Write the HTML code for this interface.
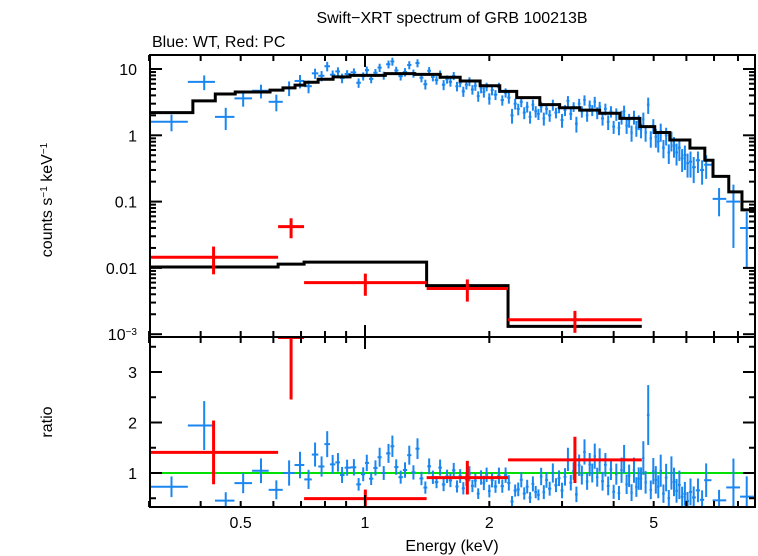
<!DOCTYPE html>
<html><head><meta charset="utf-8"><style>
body{margin:0;background:#fff;}
svg{display:block;font-family:"Liberation Sans",sans-serif;}
</style></head><body>
<svg id="c" width="758" height="556" viewBox="0 0 758 556">
<text x="452" y="23" text-anchor="middle" font-size="16">Swift−XRT spectrum of GRB 100213B</text>
<text x="152" y="47" font-size="16">Blue: WT, Red: PC</text>
<text transform="translate(52,200) rotate(-90)" text-anchor="middle" font-size="16">counts s<tspan baseline-shift="super" font-size="10">−1</tspan> keV<tspan baseline-shift="super" font-size="10">−1</tspan></text>
<text transform="translate(52,422) rotate(-90)" text-anchor="middle" font-size="16">ratio</text>
<text x="452" y="551" text-anchor="middle" font-size="16">Energy (keV)</text>
<g id="g"></g>
</svg>
<script>
// ---- data ----
const blueE=[0.34,0.408,0.46,0.507,0.56,0.61,0.655,0.696,0.73,0.757,0.785,0.81,0.835,0.86,0.88,0.905,0.94,0.965,0.99,1.01,1.035,1.06,1.085,1.11,1.14,1.165,1.19,1.22,1.25,1.28,1.31,1.34,1.37,1.40,1.43,1.46,1.49,1.52,1.55,1.58,1.61,1.64,1.67,1.70,1.73,1.76,1.79,1.82,1.85,1.88,1.91,1.94,1.97,2.00,2.03,2.07,2.11,2.15,2.19,2.23,2.27,2.31,2.35,2.39,2.43,2.47,2.51,2.55,2.59,2.63,2.67,2.71,2.75,2.80,2.85,2.90,2.95,3.00,3.05,3.10,3.15,3.20,3.25,3.30,3.35,3.40,3.45,3.50,3.55,3.60,3.65,3.70,3.76,3.82,3.88,3.94,4.00,4.06,4.12,4.18,4.24,4.30,4.36,4.42,4.48,4.54,4.60,4.66,4.72,4.78,4.85,4.92,4.99,5.06,5.13,5.20,5.28,5.36,5.44,5.52,5.60,5.68,5.77,5.86,5.95,6.04,6.14,6.25,6.4,6.55,6.7,7.2,7.8,8.4];
const blueV=[1.6,6.4,1.9,3.6,4.7,3.2,5.2,6.6,5.5,8.6,7.9,11.0,8.2,9.2,7.3,8.4,8.9,6.2,7.8,9.6,7.1,8.8,10.5,8.0,11.8,13.0,9.5,7.8,9.0,11.5,8.6,12.3,7.4,5.9,9.4,7.6,6.8,8.3,5.8,7.0,6.4,7.9,5.5,6.2,4.6,5.8,6.5,4.9,5.6,3.9,5.1,4.5,5.4,3.6,4.8,4.1,5.3,3.4,4.4,3.7,2.0,3.0,2.5,3.2,2.2,2.7,1.9,2.9,2.3,2.1,2.7,1.8,2.5,2.0,2.9,2.2,2.6,1.7,2.4,3.3,2.1,2.7,1.5,3.0,2.3,3.4,2.0,2.8,2.4,3.2,2.2,2.7,1.8,2.5,1.6,2.3,1.35,2.1,1.3,1.9,2.3,1.4,1.7,1.1,1.9,1.3,1.6,1.2,1.75,1.1,2.9,0.9,1.4,0.95,0.8,1.15,0.65,1.0,0.55,0.85,0.7,0.55,0.65,0.45,0.5,0.38,0.4,0.33,0.42,0.3,0.36,0.11,0.10,0.04];
const blueErr=[0.45,1.6,0.7,0.9,1.1,0.9,1.3,1.5,1.2,1.5,1.4,1.8,1.3,1.4,1.2,1.2,1.3,1.0,1.1,1.3,1.0,1.2,1.5,1.1,1.6,1.8,1.3,1.1,1.3,1.6,1.2,1.7,1.1,1.0,1.3,1.1,1.0,1.2,1.0,1.0,1.0,1.1,0.9,0.9,0.8,0.9,1.0,0.8,0.9,0.7,0.8,0.8,0.8,0.7,0.8,0.7,0.9,0.6,0.7,0.7,0.5,0.55,0.5,0.55,0.45,0.5,0.4,0.55,0.45,0.4,0.5,0.4,0.45,0.4,0.55,0.4,0.45,0.4,0.45,0.6,0.4,0.45,0.4,0.55,0.45,0.6,0.4,0.55,0.45,0.6,0.45,0.5,0.4,0.5,0.4,0.45,0.3,0.45,0.3,0.45,0.5,0.35,0.4,0.3,0.45,0.35,0.4,0.3,0.45,0.3,0.8,0.25,0.35,0.3,0.25,0.35,0.2,0.3,0.18,0.28,0.24,0.2,0.24,0.17,0.2,0.15,0.17,0.14,0.15,0.12,0.14,0.05,0.08,0.03];
const modelEdges=[0.30,0.383,0.434,0.485,0.589,0.633,0.677,0.715,0.77,0.837,0.92,1.12,1.32,1.52,1.70,1.90,2.12,2.33,2.65,2.96,3.31,3.70,4.14,4.63,5.03,5.47,6.12,6.65,6.96,7.6,8.18,8.9];
const modelV=[2.2,3.3,4.2,4.5,4.8,5.2,5.7,6.3,7.0,7.6,8.0,8.5,8.3,7.5,6.6,5.6,4.6,3.7,2.9,2.6,2.4,2.15,1.8,1.35,1.1,0.85,0.64,0.42,0.24,0.14,0.075];
const redLo=[0.30,0.616,0.712,1.41,2.22];
const redHi=[0.616,0.712,1.41,2.22,4.68];
const redV=[0.0145,0.042,0.006,0.0049,0.00165];
const redErr=[0.0065,0.014,0.0022,0.0018,0.0006];
const redModelEdges=[0.30,0.616,0.712,1.41,2.22,4.68];
const redModelV=[0.0103,0.0114,0.0122,0.0054,0.00131];
const xTicks=[0.5,1,2,5];
const xTickLabels=["0.5","1","2","5"];
const yTicks=[10,1,0.1,0.01];
const yTickLabels=["10","1","0.1","0.01"];
const rTicks=[1,2,3];
// ---- axes ----
const X0=150,X1=755,T0=55,T1=337,B1=507;
const xs=e=>365+413*Math.log10(e);
const ys=v=>69-66.3*Math.log10(v/10);
const yr=r=>473-50.5*(r-1);
const NS="http://www.w3.org/2000/svg",G=document.getElementById('g');
function el(t,a,p){const e=document.createElementNS(NS,t);for(const k in a)e.setAttribute(k,a[k]);(p||G).appendChild(e);return e;}
function ln(p,x1,y1,x2,y2,c,w){return el('line',{x1:x1,y1:y1,x2:x2,y2:y2,stroke:c,'stroke-width':w},p);}
function modelAt(edges,vals,e){for(let i=0;i<vals.length;i++)if(e>=edges[i]&&e<edges[i+1])return vals[i];return vals[vals.length-1];}
const bLo=[],bHi=[];
for(let i=0;i<blueE.length;i++){
 let p=i>0?Math.sqrt(blueE[i-1]*blueE[i]):0.30;
 let n=i<blueE.length-1?Math.sqrt(blueE[i]*blueE[i+1]):8.9;
 if(blueE[i]>7){p=Math.max(p,blueE[i]/1.08);}
 if(i<blueE.length-1&&blueE[i+1]>7&&blueE[i]<7){n=Math.min(n,blueE[i]*1.03);}
 bLo.push(p);bHi.push(n);}
const defs=el('defs',{});
const cp1=el('clipPath',{id:'ct'},defs);el('rect',{x:X0,y:T0,width:X1-X0,height:T1-T0},cp1);
const cp2=el('clipPath',{id:'cb'},defs);el('rect',{x:X0,y:T1,width:X1-X0,height:B1-T1},cp2);
const topG=el('g',{'clip-path':'url(#ct)'});


const botG=el('g',{'clip-path':'url(#cb)'});


const gl=ln(botG,X0,yr(1),X1,yr(1),'#00e000',2);


const B='#1a86f0';
for(let i=0;i<blueE.length;i++){
 const v=blueV[i],er=blueErr[i];
 const a=ln(topG,xs(bLo[i]),ys(v),xs(bHi[i]),ys(v),B,2);
 
 
 ln(topG,xs(blueE[i]),ys(v+er),xs(blueE[i]),ys(Math.max(v-er,1e-4)),B,2);
 const m=modelAt(modelEdges,modelV,blueE[i]);
 const rr=v/m,re=er/m;
 const b=ln(botG,xs(bLo[i]),yr(rr),xs(bHi[i]),yr(rr),B,2);
 
 
 ln(botG,xs(blueE[i]),yr(rr+re),xs(blueE[i]),yr(rr-re),B,2);
}
function stepPath(edges,vals){let d='';for(let i=0;i<vals.length;i++){d+=(i?'L':'M')+xs(edges[i])+' '+ys(vals[i])+'L'+xs(edges[i+1])+' '+ys(vals[i]);}return d;}
const mp=el('path',{d:stepPath(modelEdges,modelV),fill:'none',stroke:'#000','stroke-width':3},topG);


const rp=el('path',{d:stepPath(redModelEdges,redModelV),fill:'none',stroke:'#000','stroke-width':3},topG);


for(let i=0;i<redV.length;i++){
 const c=Math.sqrt(redLo[i]*redHi[i]),v=redV[i],er=redErr[i];
 const a=ln(topG,xs(redLo[i]),ys(v),xs(redHi[i]),ys(v),'#f00',3);
 
 
 ln(topG,xs(c),ys(v+er),xs(c),ys(v-er),'#f00',3);
 const m=modelAt(redModelEdges,redModelV,c),rr=v/m,re=er/m;
 const b=ln(botG,xs(redLo[i]),yr(rr),xs(redHi[i]),yr(rr),'#f00',3);
 
 
 ln(botG,xs(c),yr(rr+re),xs(c),yr(rr-re),'#f00',3);
}
const f1=el('rect',{x:X0,y:T0,width:X1-X0,height:T1-T0,fill:'none',stroke:'#000','stroke-width':2});


const f2=el('rect',{x:X0,y:T1,width:X1-X0,height:B1-T1,fill:'none',stroke:'#000','stroke-width':2});


const minorX=[0.3,0.4,0.5,0.6,0.7,0.8,0.9,1,2,3,4,5,6,7,8];
minorX.forEach(e=>{
 const xx=xs(e),L=(e===1)?12:6;
 [[T0,1],[T1,-1],[T1,1],[B1,-1]].forEach(([yy,s])=>ln(G,xx,yy,xx,yy+s*L,'#000',2));
});
for(let i=0;i<xTicks.length;i++){
 const t=el('text',{x:xs(xTicks[i]),y:528,'text-anchor':'middle','font-size':16});t.textContent=xTickLabels[i];
 
 
}
for(let p=-3;p<=1;p++){for(let k=1;k<10;k++){const v=k*Math.pow(10,p);if(v>16.3||v<9e-4)continue;const yy=ys(v),L=k===1?12:6;ln(G,X0,yy,X0+L,yy,'#000',2);ln(G,X1,yy,X1-L,yy,'#000',2);}}
for(let i=0;i<yTicks.length;i++){
 const t=el('text',{x:137,y:ys(yTicks[i])+6,'text-anchor':'end','font-size':16});t.textContent=yTickLabels[i];
 
 
}
const t3=el('text',{x:137,y:ys(0.001)+6,'text-anchor':'end','font-size':16});
t3.innerHTML='10<tspan baseline-shift="super" font-size="10">−3</tspan>';


[0.5,1,1.5,2,2.5,3,3.5].forEach(r=>{const yy=yr(r),L=(r%1===0)?12:6;ln(G,X0,yy,X0+L,yy,'#000',2);ln(G,X1,yy,X1-L,yy,'#000',2);});
for(let i=0;i<rTicks.length;i++){
 const t=el('text',{x:137,y:yr(rTicks[i])+6,'text-anchor':'end','font-size':16});t.textContent=String(rTicks[i]);
 
 
}
</script>
</body></html>
